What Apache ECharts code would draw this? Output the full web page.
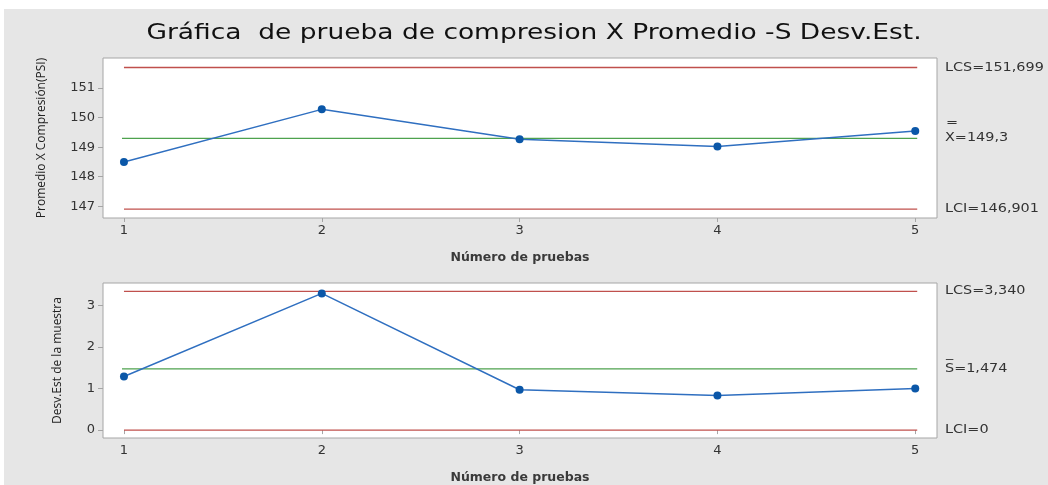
<!DOCTYPE html>
<html>
<head>
<meta charset="utf-8">
<script src="https://cdn.jsdelivr.net/npm/echarts@6/dist/echarts.min.js"></script>
<style>
  html, body { margin: 0; padding: 0; background: #ffffff; }
  #chart { width: 1048px; height: 485px; }
</style>
</head>
<body>
<div id="chart"></div>
<script>
// Sample numbers (x axis)
var samples = [1, 2, 3, 4, 5];
// X-bar chart: mean compression per sample (PSI)
var xbarValues = [148.50, 150.28, 149.27, 149.02, 149.55];
// S chart: sample standard deviation
var sValues = [1.29, 3.29, 0.97, 0.83, 1.00];

// Control limits: upper, center, lower
var xbarLimits = [151.699, 149.3, 146.901];
var xbarDigits = [3, 1, 3];
var sLimits = [3.340, 1.474, 0];
var sDigits = [3, 3, 0];
var limitNames = ['LCS', 'X', 'LCI'];
var sLimitNames = ['LCS', 'S', 'LCI'];

// Tick labels
var xTicks = [1, 2, 3, 4, 5];
var xbarTicks = [147, 148, 149, 150, 151];
var sTicks = [0, 1, 2, 3];

var chart = echarts.init(document.getElementById('chart'), null, { renderer: 'canvas' });

var WIDE = '"DejaVu Sans", "Noto Sans", sans-serif';
var FONT = '"Open Sans", "Noto Sans", sans-serif';
var RED = '#c0504d';
var GREEN = '#4ea24e';
var BLUE = '#2f6fc0';
var DOT = '#0b57a8';
var FRAME = '#a6a6a6';
var TEXT = '#333333';

function fmt(v, d) { return v.toFixed(d).replace('.', ','); }

function xAxisCfg(gridIndex) {
  return {
    type: 'value', gridIndex: gridIndex, min: 0.894, max: 5.11,
    name: 'Número de pruebas', nameLocation: 'middle', nameGap: 33,
    nameTextStyle: { fontFamily: WIDE, fontSize: 12.5, color: '#3a3a3a', fontWeight: 'bold' },
    axisLine: { show: false },
    axisTick: { show: true, customValues: xTicks, length: 4, lineStyle: { color: FRAME } },
    axisLabel: { customValues: xTicks, fontFamily: WIDE, fontSize: 13, color: TEXT, margin: 6 },
    splitLine: { show: false }
  };
}
function yAxisCfg(gridIndex, min, max, ticks, name, gap) {
  return {
    type: 'value', gridIndex: gridIndex, min: min, max: max,
    name: name, nameLocation: 'middle', nameGap: gap,
    nameTextStyle: { fontFamily: FONT, fontSize: 12, color: '#222' },
    axisLine: { show: false },
    axisTick: { show: true, customValues: ticks, length: 5, lineStyle: { color: FRAME } },
    axisLabel: { customValues: ticks, fontFamily: WIDE, fontSize: 13, color: TEXT, margin: 8 },
    splitLine: { show: false }
  };
}
function limitSeries(axisIndex, values) {
  var colors = [RED, GREEN, RED];
  return values.map(function (v, i) {
    var x0 = i === 1 ? 0.99 : 1.0;
    return {
      type: 'line', xAxisIndex: axisIndex, yAxisIndex: axisIndex,
      data: [[x0, v], [5.01, v]], symbol: 'none', silent: true,
      lineStyle: { color: colors[i], width: 1.3 }, z: 1
    };
  });
}
function dataSeries(axisIndex, values) {
  return {
    type: 'line', xAxisIndex: axisIndex, yAxisIndex: axisIndex,
    data: samples.map(function (s, i) { return [s, values[i]]; }),
    symbol: 'circle', symbolSize: 8,
    itemStyle: { color: DOT },
    lineStyle: { color: BLUE, width: 1.5 }, z: 3
  };
}

var option = {
  animation: false,
  backgroundColor: '#ffffff',
  grid: [
    { left: 103, top: 58, width: 834, height: 160, show: true, borderColor: FRAME, borderWidth: 1, backgroundColor: '#ffffff' },
    { left: 103, top: 283, width: 834, height: 160, show: true, borderColor: FRAME, borderWidth: 1, backgroundColor: '#ffffff' }
  ],
  xAxis: [xAxisCfg(0), xAxisCfg(1)],
  yAxis: [
    yAxisCfg(0, 146.6, 152.02, xbarTicks, 'Promedio X Compresión(PSI)', 55),
    yAxisCfg(1, -0.19, 3.54, sTicks, 'Desv.Est de la muestra', 39)
  ],
  series: [].concat(
    limitSeries(0, xbarLimits),
    limitSeries(1, sLimits),
    [dataSeries(0, xbarValues), dataSeries(1, sValues)]
  )
};
chart.setOption(option);

// Limit labels to the right of each chart, placed at the limit's pixel height
function limitLabels(axisIndex, values, digits, names, barChar) {
  var els = [];
  values.forEach(function (v, i) {
    var y = chart.convertToPixel({ xAxisIndex: axisIndex, yAxisIndex: axisIndex }, [5, v])[1];
    els.push({
      type: 'text', x: 945, y: y, z: 10, scaleX: 1.2, originX: 0, originY: 0,
      style: { text: names[i] + '=' + fmt(v, digits[i]), fill: TEXT, font: '12px ' + WIDE, verticalAlign: 'middle' }
    });
    if (i === 1) {
      els.push({
        type: 'text', x: 946, y: y - 15, z: 10, scaleX: 1.2, originX: 0, originY: 0,
        style: { text: barChar, fill: TEXT, font: '12px ' + WIDE, verticalAlign: 'middle' }
      });
    }
  });
  return els;
}

var graphics = [
  {
    type: 'rect', z: -10, silent: true,
    shape: { x: 4, y: 9, width: 1044, height: 476 },
    style: { fill: '#e6e6e6' }
  },
  {
    type: 'text', x: 534, y: 34, z: 10, scaleX: 1.26, originX: 0, originY: 0,
    style: {
      text: 'Gráfica  de prueba de compresion X Promedio -S Desv.Est.',
      fill: '#111', font: '21px ' + WIDE, align: 'center', verticalAlign: 'middle'
    }
  }
].concat(
  limitLabels(0, xbarLimits, xbarDigits, limitNames, '='),
  limitLabels(1, sLimits, sDigits, sLimitNames, '_')
);
chart.setOption({ graphic: graphics });
</script>
</body>
</html>
